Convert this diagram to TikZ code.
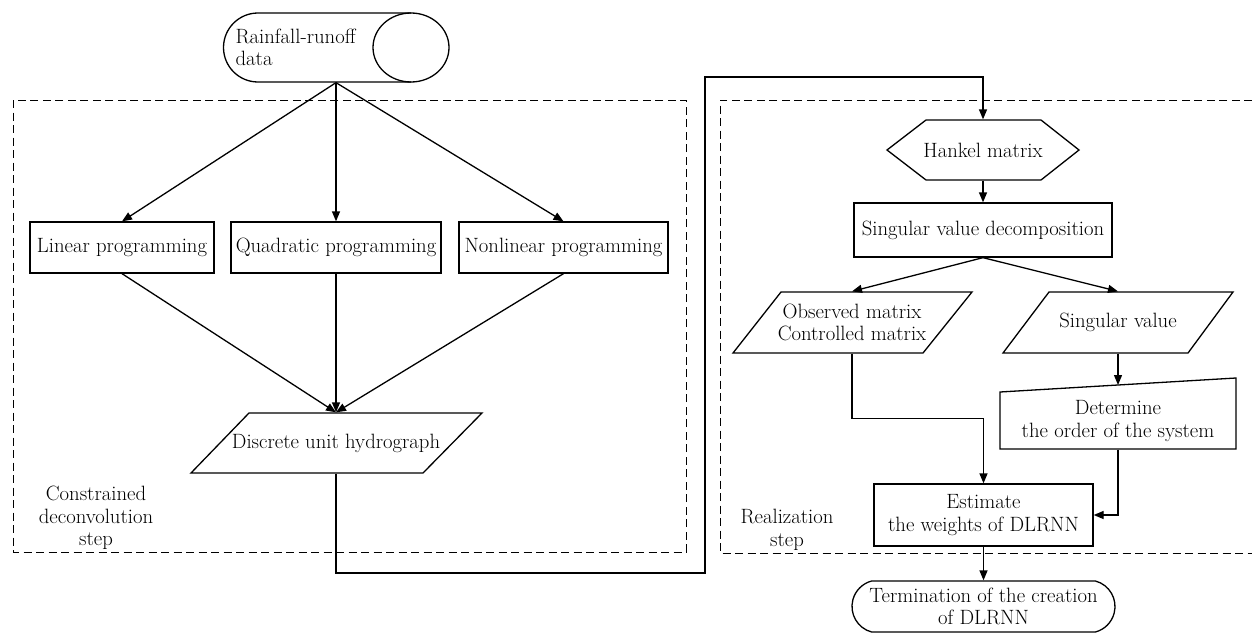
\documentclass[tikz,border=0pt]{standalone}
\usepackage{fontspec}
\usetikzlibrary{arrows.meta,shapes.misc,calc}
\begin{document}
\begin{tikzpicture}[x=1pt,y=-1pt, line width=1.3pt,
  every node/.style={font=\fontsize{20.7}{22.5}\selectfont, inner sep=0pt, align=center},
  boxn/.style={draw, rectangle},
  ghost/.style={rectangle},
  arr/.style={-{Triangle[length=10pt,width=8pt]}},
  dashbox/.style={line width=1pt, dash pattern=on 8pt off 4.5pt}]
\fill[white] (0,0) rectangle (1252,634);
\useasboundingbox (0,0) rectangle (1252,634);

% dashed groups
\draw[dashbox] (13,100) rectangle (686,552);
\draw[dashbox] (1252,100) -- (720,100) -- (720,553) -- (1252,553);

% input storage
\node[ghost, minimum width=226pt, minimum height=69pt] (rain) at (336,47.5) {};
\draw (411,13) -- (258,13) arc[start angle=-90, end angle=-270, radius=34.5] -- (411,82);
\draw (411,47.5) ellipse[x radius=38, y radius=34.5];
\node[anchor=west, align=left] (rainlbl) at (235,47.5) {Rainfall-runoff\\data};

% programming boxes
\node[boxn, minimum width=184pt, minimum height=51pt] (lin) at (122,247.5) {Linear programming};
\node[boxn, minimum width=210pt, minimum height=51pt] (quad) at (336,247.5) {Quadratic programming};
\node[boxn, minimum width=209pt, minimum height=51pt] (nonlin) at (563.5,247.5) {Nonlinear programming};

% discrete unit hydrograph
\node[ghost, minimum width=233pt, minimum height=60pt] (disc) at (336,443) {Discrete unit hydrograph};
\draw (249,413) -- (482,413) -- (423,473) -- (191,473) -- cycle;

% right part
\node[ghost, minimum width=192pt, minimum height=60pt] (hank) at (983,150) {Hankel matrix};
\draw (887,150) -- (926,120) -- (1041,120) -- (1079,150) -- (1041,180) -- (926,180) -- cycle;

\node[boxn, minimum width=258pt, minimum height=54pt] (svd) at (983,230) {Singular value decomposition};

\node[ghost, minimum width=190pt, minimum height=61pt] (obs) at (852,322.5) {Observed matrix\\Controlled matrix};
\draw (781,292) -- (972,292) -- (923,353) -- (733,353) -- cycle;

\node[ghost, minimum width=185pt, minimum height=61pt] (sing) at (1118,322.5) {Singular value};
\draw (1049,292) -- (1233,292) -- (1188,353) -- (1003,353) -- cycle;

\node[ghost, minimum width=236pt, minimum height=56pt] (det) at (1118,421) {Determine\\the order of the system};
\draw (1000,392) -- (1236,378) -- (1236,449) -- (1000,449) -- cycle;
\coordinate (dettop) at (1118,385);

\node[boxn, minimum width=219pt, minimum height=62pt] (est) at (983.5,515) {Estimate\\the weights of DLRNN};

\node[draw, rounded rectangle, rounded rectangle arc length=150, minimum width=263pt, minimum height=51pt] (term) at (983.5,606.5) {Termination of the creation\\of DLRNN};

% step labels
\node (lblc) at (96,518) {Constrained\\deconvolution\\step};
\node (lblr) at (787,530) {Realization\\step};

% connectors
\draw[arr] (rain.south) -- (lin.north);
\draw[arr] (rain.south) -- (quad.north);
\draw[arr] (rain.south) -- (nonlin.north);
\draw[arr] (lin.south) -- (disc.north);
\draw[arr] (quad.south) -- (disc.north);
\draw[arr] (nonlin.south) -- (disc.north);
\coordinate (loopA) at (705,573);
\coordinate (loopB) at (705,77);
\draw[arr] (disc.south) |- (loopA) -- (loopB) -| (hank.north);
\draw[arr] (hank.south) -- (svd.north);
\draw[arr] (svd.south) -- (obs.north);
\draw[arr] (svd.south) -- (sing.north);
\draw[arr] (sing.south) -- (dettop);
\draw[arr] (obs.south) -- ++(0,65) -| (est.north);
\draw[arr] (det.south) |- (est.east);
\draw[arr] (est.south) -- (term.north);
\end{tikzpicture}
\end{document}
